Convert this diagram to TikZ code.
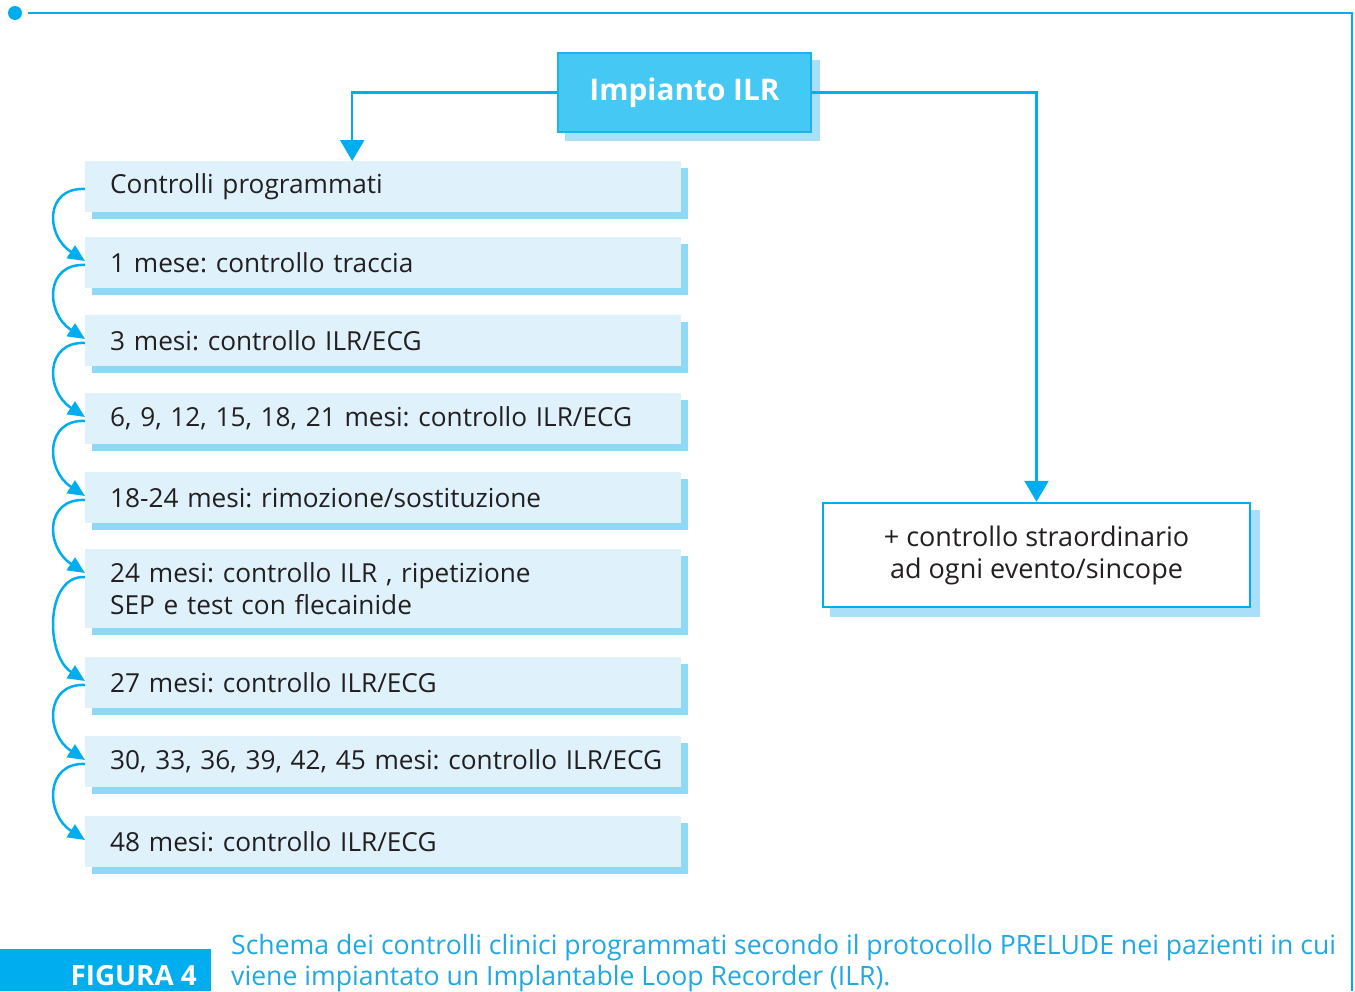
\documentclass[tikz,border=0pt]{standalone}
\usepackage{fontspec}
\setmainfont{Open Sans}
\usetikzlibrary{arrows.meta,calc,backgrounds}
\definecolor{cyanline}{HTML}{00AEEF}
\definecolor{impfill}{HTML}{45C8F4}
\definecolor{impborder}{HTML}{1BB3EB}
\definecolor{impshadow}{HTML}{A9DFF9}
\definecolor{boxfill}{HTML}{DFF1FB}
\definecolor{boxshadow}{HTML}{8FD8F6}
\definecolor{txt}{HTML}{231F20}
\definecolor{captxt}{HTML}{1FA8E4}
\frenchspacing
\begin{document}
\frenchspacing
\begin{tikzpicture}[x=1pt,y=-1pt,
  lbox/.style={fill=boxfill, anchor=north west, minimum height=51pt, text width=546pt,
    inner xsep=25pt, inner ysep=0pt, align=left, text=txt,
    font=\fontsize{26.2}{32}\selectfont},
  impbox/.style={fill=impfill, draw=impborder, line width=1.5pt, minimum width=253pt,
    minimum height=79pt, text=white, font=\fontsize{29.8}{34}\selectfont\bfseries},
  extrabox/.style={fill=white, draw=cyanline, line width=2.5pt, minimum width=427pt,
    minimum height=104pt, align=center, text=txt, font=\fontsize{27}{32}\selectfont},
  conn/.style={draw=cyanline, line width=2.5pt, -{Triangle[length=21pt,width=24pt]}},
  arc/.style={draw=cyanline, line width=2.5pt, -{Triangle[length=17pt,width=15pt]}},
  frame/.style={draw=cyanline, line width=2.8pt}
]
\useasboundingbox (0,0) rectangle (1355,991);
% frame
\fill[cyanline] (15,13) circle[radius=7pt];
\coordinate (ftl) at (28,13);
\coordinate (ftr) at (1352,13);
\coordinate (fbr) at (1352,991);
\draw[frame] (ftl) -- (ftr) -- (fbr);

% top box
\node[impbox] (imp) at (684.5,92.5) {Impianto ILR};

% left boxes
\node[lbox] (b1) at (85,161) {Controlli programmati};
\node[lbox] (b2) at (85,237) {1 mese: controllo traccia};
\node[lbox] (b3) at (85,315) {3 mesi: controllo ILR/ECG};
\node[lbox] (b4) at (85,393) {6, 9, 12, 15, 18, 21 mesi: controllo ILR/ECG};
\node[lbox] (b5) at (85,472) {18-24 mesi: rimozione/sostituzione};
\node[lbox, minimum height=79pt] (b6) at (85,549) {24 mesi: controllo ILR , ripetizione\\SEP e test con flecainide};
\node[lbox] (b7) at (85,657) {27 mesi: controllo ILR/ECG};
\node[lbox] (b8) at (85,736) {\makebox[546pt][l]{30, 33, 36, 39, 42, 45 mesi: controllo ILR/ECG}};
\node[lbox] (b9) at (85,816) {48 mesi: controllo ILR/ECG};

% right box
\node[extrabox] (ex) at (1036.5,555) {+ controllo straordinario\\ad ogni evento/sincope};

% shadows
\begin{scope}[on background layer]
  \fill[impshadow] ($(imp.north west)+(8,8)$) rectangle ($(imp.south east)+(8,8)$);
  \fill[impshadow] ($(ex.north west)+(8.5,8.5)$) rectangle ($(ex.south east)+(8.5,8.5)$);
  \foreach \b in {b1,b2,b3,b4,b5,b6,b7,b8,b9}{
    \fill[boxshadow] ($(\b.north west)+(7,6.5)$) rectangle ($(\b.south east)+(7,6.5)$);
  }
\end{scope}

% connectors
\draw[conn] (imp.west) -| ([xshift=-31pt]b1.north);
\draw[conn] (imp.east) -| (ex.north);

% arcs
\foreach \a/\b in {b1/b2,b2/b3,b3/b4,b4/b5,b5/b6,b6/b7,b7/b8,b8/b9}{
  \draw[arc] ($(\a.north west)+(0,28)$) .. controls +(-40,-2) and +(-40,-26) .. ($(\b.north west)+(0,24)$);
}

% caption
\fill[cyanline] (0,949) rectangle (211,991);
\node[anchor=base east, inner sep=0pt, text=white, font=\fontsize{27.8}{30}\selectfont\bfseries] (fig) at (197,985) {FIGURA 4};
\node[anchor=base west, inner sep=0pt, align=left, text=captxt, font=\fontsize{26.6}{31}\selectfont] (cap) at (231,985)
  {Schema dei controlli clinici programmati secondo il protocollo PRELUDE nei pazienti in cui\\viene impiantato un Implantable Loop Recorder (ILR).};
\end{tikzpicture}
\end{document}
